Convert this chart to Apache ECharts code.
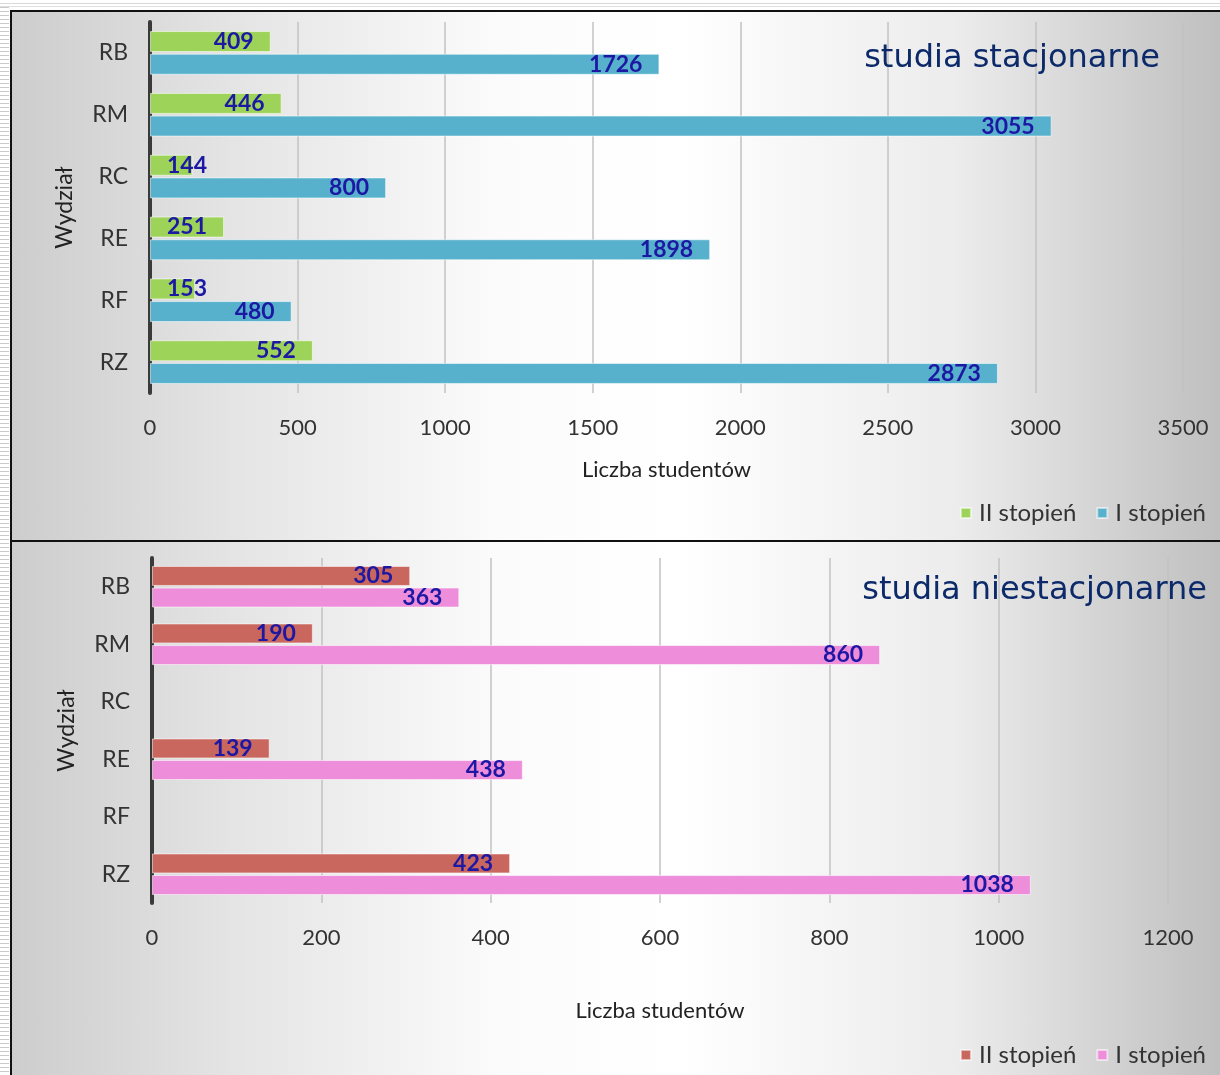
<!DOCTYPE html>
<html>
<head>
<meta charset="utf-8">
<script src="https://cdn.jsdelivr.net/npm/echarts@6/dist/echarts.min.js"></script>
<style>
  html, body { margin: 0; padding: 0; width: 1220px; height: 1075px; overflow: hidden; background: #fff; }
  #strip { position: absolute; left: 0; top: 0; width: 9px; height: 1075px;
    background: repeating-linear-gradient(to bottom, #ffffff 0px, #ffffff 3px, #c9c9c9 3px, #c9c9c9 4px); }
  #topline { position: absolute; left: 0; top: 3px; width: 1220px; height: 4px;
    background: linear-gradient(to bottom, #d8d8d8 0, #d8d8d8 1px, #fff 1px, #fff 3px, #e0e0e0 3px); }
  .panel { position: absolute; left: 10px; width: 1215px; box-sizing: border-box; border: 2px solid #111;
    background: linear-gradient(to right, #cdcdcd 0%, #e4e4e4 18%, #fbfbfb 40%, #ffffff 55%, #ececec 78%, #bfbfbf 100%); }
  #p1 { top: 10px; height: 532px; }
  #p2 { top: 540px; height: 545px; }
  .chart { width: 100%; height: 100%; }
</style>
</head>
<body>
<div id="strip"></div>
<div id="topline"></div>
<div class="panel" id="p1"><div class="chart" id="c1"></div></div>
<div class="panel" id="p2"><div class="chart" id="c2"></div></div>
<script>
// ---- data ----
const categories = ['RB', 'RM', 'RC', 'RE', 'RF', 'RZ'];
const seriesNames = ['II stopień', 'I stopień'];
const stacII = [409, 446, 144, 251, 153, 552];
const stacI = [1726, 3055, 800, 1898, 480, 2873];
const niestacII = [305, 190, null, 139, null, 423];
const niestacI = [363, 860, null, 438, null, 1038];
const stacTicks = [0, 500, 1000, 1500, 2000, 2500, 3000, 3500];
const niestacTicks = [0, 200, 400, 600, 800, 1000, 1200];
const titles = ['studia stacjonarne', 'studia niestacjonarne'];
const axisNames = { x: 'Liczba studentów', y: 'Wydział' };

const FONT = 'Lato, "Open Sans", sans-serif';
const LABEL_COLOR = '#1c18a4';

function makeData(values, max) {
  return values.map(v => {
    if (v === null) return null;
    const small = v / max < 0.075;
    return { value: v, label: { position: small ? 'insideLeft' : 'insideRight' } };
  });
}

function makeOption(cfg) {
  const max = cfg.ticks[cfg.ticks.length - 1];
  const interval = cfg.ticks[1] - cfg.ticks[0];
  const mkSeries = (name, vals, color) => ({
    name: name,
    type: 'bar',
    data: makeData(vals, max),
    barWidth: cfg.barWidth,
    barGap: '8%',
    itemStyle: { color: color, borderColor: 'rgba(255,255,255,0.55)', borderWidth: 1 },
    label: {
      show: true,
      distance: 17,
      color: LABEL_COLOR,
      fontFamily: FONT,
      fontWeight: 'bold',
      fontSize: 23
    }
  });
  return {
    animation: false,
    title: {
      text: cfg.title,
      right: cfg.titleRight,
      top: cfg.titleTop,
      textStyle: { fontFamily: '"DejaVu Sans", Verdana, sans-serif', fontWeight: 'normal', fontSize: 32, color: '#0c2a6a' }
    },
    legend: {
      data: seriesNames,
      right: 12,
      top: cfg.legendTop,
      itemWidth: 10,
      itemHeight: 10,
      itemGap: 20,
      icon: 'rect',
      textStyle: { fontFamily: FONT, fontSize: 24, color: '#333', padding: [0, 0, 0, 3] }
    },
    grid: { left: cfg.gridLeft, width: cfg.gridWidth, top: cfg.gridTop, height: cfg.gridHeight },
    xAxis: {
      type: 'value',
      min: 0,
      max: max,
      interval: interval,
      name: axisNames.x,
      nameLocation: 'middle',
      nameGap: cfg.xNameGap,
      nameTextStyle: { fontFamily: FONT, fontSize: 22, color: '#222' },
      axisLine: { show: false },
      axisTick: { show: false },
      axisLabel: { fontFamily: FONT, fontSize: 22, color: '#333', margin: 24, formatter: v => String(v) },
      splitLine: { show: true, lineStyle: { color: '#c2c2c2', width: 1.5 } }
    },
    yAxis: {
      type: 'category',
      inverse: true,
      data: categories,
      name: axisNames.y,
      nameLocation: 'middle',
      nameGap: 74,
      nameTextStyle: { fontFamily: FONT, fontSize: 23, color: '#222' },
      axisLine: { show: true, lineStyle: { color: '#3a3a3a', width: 4 } },
      axisTick: { show: false },
      axisLabel: { fontFamily: FONT, fontSize: 23, color: '#333', margin: 22 }
    },
    series: [
      mkSeries(seriesNames[0], cfg.ii, cfg.colors[0]),
      mkSeries(seriesNames[1], cfg.i, cfg.colors[1])
    ]
  };
}

const c1 = echarts.init(document.getElementById('c1'));
c1.setOption(makeOption({
  title: titles[0], titleRight: 58, titleTop: 26,
  legendTop: 484,
  gridLeft: 138, gridWidth: 1033, gridTop: 10, gridHeight: 371,
  xNameGap: 66, barWidth: 21,
  ticks: stacTicks, ii: stacII, i: stacI,
  colors: ['#9ed35a', '#57b1cc']
}));

const c2 = echarts.init(document.getElementById('c2'));
c2.setOption(makeOption({
  title: titles[1], titleRight: 11, titleTop: 28,
  legendTop: 496,
  gridLeft: 140, gridWidth: 1016, gridTop: 16, gridHeight: 345,
  xNameGap: 97, barWidth: 20,
  ticks: niestacTicks, ii: niestacII, i: niestacI,
  colors: ['#c9675f', '#ee8edb']
}));
</script>
</body>
</html>
